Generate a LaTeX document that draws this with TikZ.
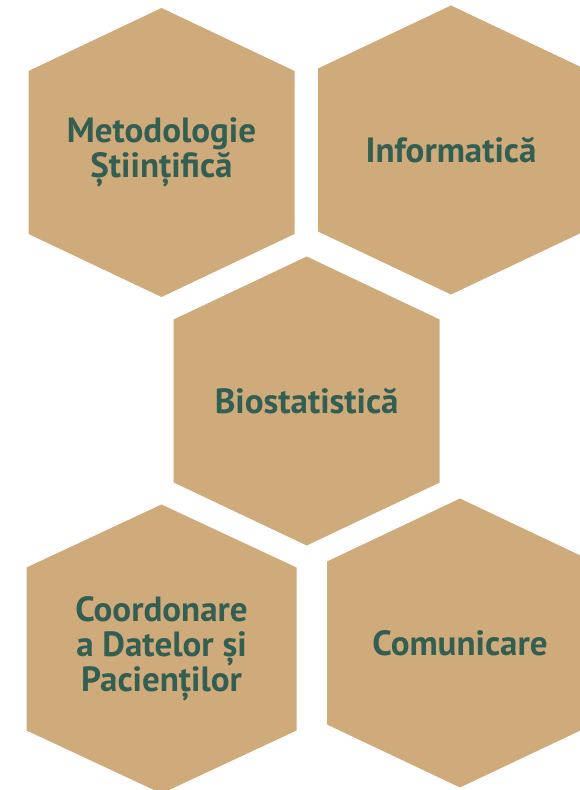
\documentclass[tikz,border=0pt]{standalone}
\usepackage{fontspec}
\setmainfont{PT Sans}
\usepackage{tikz}

\definecolor{hexsand}{HTML}{CFAA7A}
\definecolor{hexgreen}{HTML}{335E52}

\begin{document}
\begin{tikzpicture}[
  x=1pt, y=1pt,
  hexa/.style={fill=hexsand},
  topic/.style={align=center, text=hexgreen,
                font=\bfseries\fontsize{35}{35}\selectfont},
]
\clip (0,0) rectangle (580,790);
% honeycomb cells (pointy top), w = half width
\foreach \cx/\cy/\w in {161.5/637.5/133, 451/640/133, 306.7/389/133,
                        161.5/141/135, 460/147/133}
  \fill[hexa] (\cx,\cy) ++(0,144.5) -- ++(\w,-63) -- ++(0,-163)
              -- ++(-\w,-63) -- ++(-\w,63) -- ++(0,163) -- cycle;

\node[topic] (metod) at (161.5,638)   {Metodologie\\Științifică};
\node[topic] (info)  at (451,640)     {Informatică};
\node[topic] (bio)   at (306.7,389)   {Biostatistică};
\node[topic] (coord) at (161.5,141)   {Coordonare\\a Datelor și\\Pacienților};
\node[topic] (comm)  at (460,147)     {Comunicare};
\end{tikzpicture}
\end{document}
